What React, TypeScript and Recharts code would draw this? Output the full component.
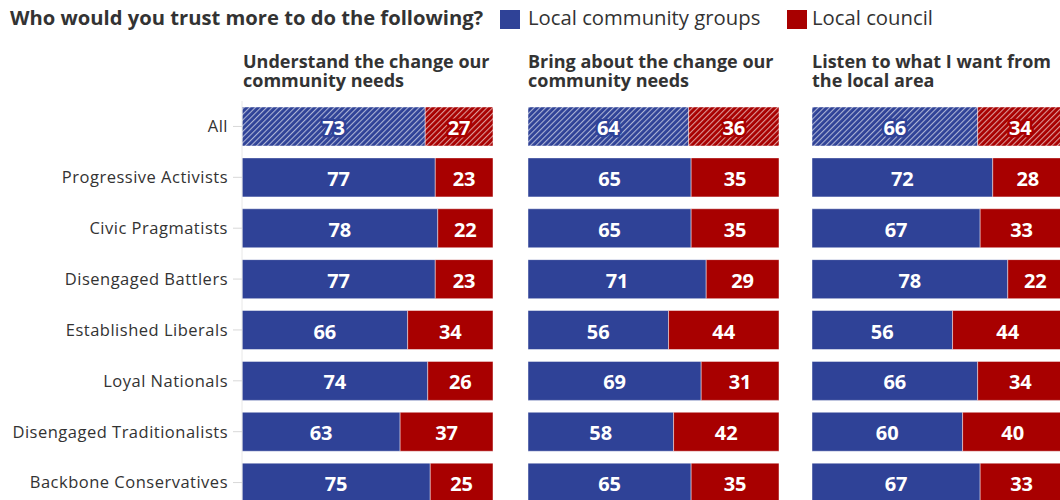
import React from 'react';
import { BarChart, Bar, XAxis, YAxis, Cell, LabelList } from 'recharts';

// segments, top to bottom
const segments = [
  'All',
  'Progressive Activists',
  'Civic Pragmatists',
  'Disengaged Battlers',
  'Established Liberals',
  'Loyal Nationals',
  'Disengaged Traditionalists',
  'Backbone Conservatives',
];

const understandGroups = [73, 77, 78, 77, 66, 74, 63, 75];
const understandCouncil = [27, 23, 22, 23, 34, 26, 37, 25];

const bringGroups = [64, 65, 65, 71, 56, 69, 58, 65];
const bringCouncil = [36, 35, 35, 29, 44, 31, 42, 35];

const listenGroups = [66, 72, 67, 78, 56, 66, 60, 67];
const listenCouncil = [34, 28, 33, 22, 44, 34, 40, 33];

const panelTitles = [
  ['Understand the change our', 'community needs'],
  ['Bring about the change our', 'community needs'],
  ['Listen to what I want from', 'the local area'],
];

const BLUE = '#2f4297';
const RED = '#a80000';
const TEXT = '#333333';
const FONT = '"Open Sans", Lato, sans-serif';

const buildRows = (groups: number[], council: number[]) =>
  segments.map((name, i) => ({ name, groups: groups[i], council: council[i] }));

const panels = [
  { id: 'p1', rows: buildRows(understandGroups, understandCouncil), left: 0, showAxis: true },
  { id: 'p2', rows: buildRows(bringGroups, bringCouncil), left: 528, showAxis: false },
  { id: 'p3', rows: buildRows(listenGroups, listenCouncil), left: 812, showAxis: false },
];

const PLOT_W = 251;
const AXIS_W = 242;
const CHART_H = 508;

function makeLabel(color: string) {
  return (props: any) => {
    const { x, y, width, height, value, index } = props;
    const first = index === 0;
    return (
      <text
        x={x + width / 2}
        y={y + height / 2 + 1}
        textAnchor="middle"
        dominantBaseline="central"
        fill="#ffffff"
        stroke={first ? color : 'none'}
        strokeWidth={first ? 5 : 0}
        strokeLinejoin="round"
        style={{ paintOrder: 'stroke', fontFamily: FONT, fontWeight: 700, fontSize: 20 }}
      >
        {value}
      </text>
    );
  };
}

function Hatch({ id, color }: { id: string; color: string }) {
  return (
    <pattern id={id} patternUnits="userSpaceOnUse" width={4} height={4} patternTransform="rotate(45)">
      <rect width={4} height={4} fill={color} />
      <line x1={0} y1={0} x2={0} y2={4} stroke="rgba(255,255,255,0.6)" strokeWidth={2.2} />
    </pattern>
  );
}

function Panel({ id, rows, left, showAxis }: any) {
  const width = showAxis ? AXIS_W + PLOT_W : PLOT_W;
  return (
    <div style={{ position: 'absolute', left, top: 0 }}>
      <BarChart
        width={width}
        height={CHART_H}
        data={rows}
        layout="vertical"
        margin={{ top: 101, right: 0, bottom: 0, left: 0 }}
        barSize={39}
      >
        <defs>
          <Hatch id={`${id}-hb`} color={BLUE} />
          <Hatch id={`${id}-hr`} color={RED} />
        </defs>
        <XAxis type="number" domain={[0, 100]} hide />
        <YAxis
          type="category"
          dataKey="name"
          hide={!showAxis}
          width={AXIS_W}
          tickSize={9}
          tickMargin={5}
          axisLine={{ stroke: '#e8e8e8' }}
          tickLine={{ stroke: '#d8d8d8' }}
          tick={{ fill: TEXT, fontSize: 16.5, fontFamily: FONT, letterSpacing: 0.5 }}
        />
        <Bar dataKey="groups" stackId="a" fill={BLUE} stroke="rgba(255,255,255,0.45)" strokeWidth={1} isAnimationActive={false}>
          {rows.map((_: any, i: number) => (
            <Cell key={i} fill={i === 0 ? `url(#${id}-hb)` : BLUE} />
          ))}
          <LabelList dataKey="groups" content={makeLabel(BLUE)} />
        </Bar>
        <Bar dataKey="council" stackId="a" fill={RED} stroke="rgba(255,255,255,0.45)" strokeWidth={1} isAnimationActive={false}>
          {rows.map((_: any, i: number) => (
            <Cell key={i} fill={i === 0 ? `url(#${id}-hr)` : RED} />
          ))}
          <LabelList dataKey="council" content={makeLabel(RED)} />
        </Bar>
      </BarChart>
    </div>
  );
}

export default function App() {
  const titleLefts = [243, 528, 812];
  return (
    <div
      style={{
        position: 'absolute',
        left: 0,
        top: 0,
        width: 1060,
        height: 500,
        overflow: 'hidden',
        background: '#ffffff',
        fontFamily: FONT,
        color: TEXT,
      }}
    >
      <div style={{ position: 'absolute', left: 10, top: 3, fontSize: 20.2, fontWeight: 700, whiteSpace: 'nowrap' }}>
        Who would you trust more to do the following?
      </div>
      <div style={{ position: 'absolute', left: 500, top: 10, width: 20, height: 19, background: BLUE }} />
      <div style={{ position: 'absolute', left: 528, top: 3, fontSize: 20.3, whiteSpace: 'nowrap' }}>Local community groups</div>
      <div style={{ position: 'absolute', left: 787, top: 10, width: 20, height: 19, background: RED }} />
      <div style={{ position: 'absolute', left: 812, top: 3, fontSize: 20.3, whiteSpace: 'nowrap' }}>Local council</div>

      {panelTitles.map((lines, i) =>
        lines.map((line, j) => (
          <div
            key={`${i}-${j}`}
            style={{
              position: 'absolute',
              left: titleLefts[i],
              top: 52 + j * 19,
              height: 18,
              fontSize: 18,
              fontWeight: 700,
              lineHeight: '18px',
              whiteSpace: 'nowrap',
            }}
          >
            {line}
          </div>
        ))
      )}

      {panels.map((p) => (
        <Panel key={p.id} {...p} />
      ))}
    </div>
  );
}
